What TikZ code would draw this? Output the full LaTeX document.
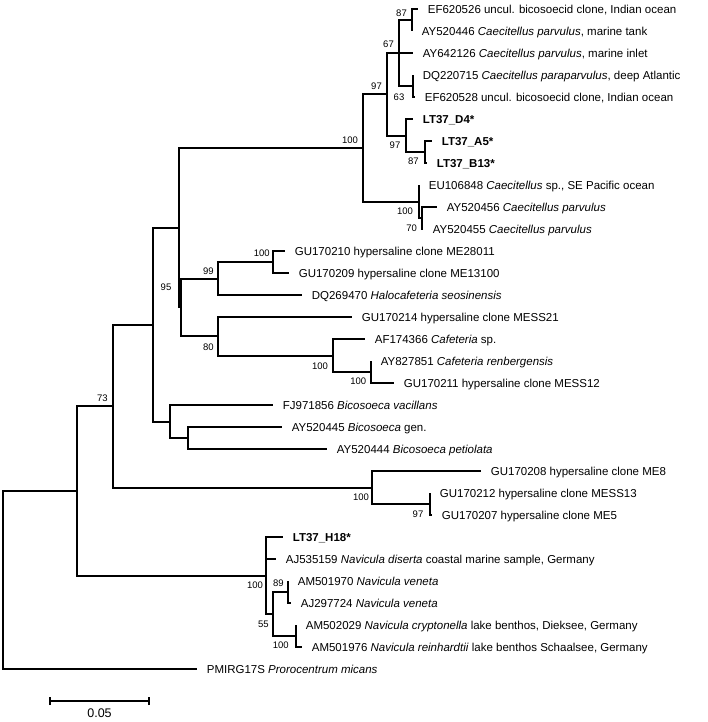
\documentclass[tikz,border=0pt]{standalone}
\usepackage{fontspec}
\setmainfont{Liberation Sans}
\newlength{\du}
\setlength{\du}{1pt}
\tikzset{
  tiplabel/.style={anchor=west, inner xsep=9\du, inner ysep=0pt, text height=8.2pt, text depth=0pt, font=\fontsize{11.5}{13}\selectfont},
  bootlabel/.style={inner sep=0pt, font=\fontsize{9.5}{11}\selectfont},
}
\begin{document}
\begin{tikzpicture}
\pgftransformxscale{1.000000}
\pgftransformyscale{-1.000000}
\useasboundingbox (0.000000\du,0.000000\du) rectangle (708.000000\du,722.000000\du);
\definecolor{dialinecolor}{rgb}{0.000000, 0.000000, 0.000000}
\pgfsetstrokecolor{dialinecolor}
\pgfsetlinewidth{1.700000\du}
\pgfsetdash{}{0pt}
\pgfsetmiterjoin
\pgfsetbuttcap
% inner nodes of the tree
\coordinate (root) at (3.000000\du,580.000000\du);
\coordinate (n76) at (77.000000\du,491.000000\du);
\coordinate (n73) at (113.000000\du,406.000000\du);
\coordinate (n152) at (153.000000\du,325.000000\du);
\coordinate (nX) at (179.000000\du,228.000000\du);
\coordinate (nY) at (181.000000\du,307.000000\du);
\coordinate (n100) at (363.000000\du,148.000000\du);
\coordinate (n97) at (387.000000\du,94.000000\du);
\coordinate (n67) at (399.000000\du,53.000000\du);
\coordinate (n87) at (412.000000\du,20.000000\du);
\coordinate (n63) at (413.000000\du,86.000000\du);
\coordinate (n97b) at (406.000000\du,136.000000\du);
\coordinate (n87b) at (425.000000\du,152.000000\du);
\coordinate (nA) at (419.000000\du,202.000000\du);
\coordinate (n70) at (422.000000\du,218.000000\du);
\coordinate (n99) at (218.000000\du,279.000000\du);
\coordinate (n100b) at (273.000000\du,262.000000\du);
\coordinate (n80) at (218.000000\du,336.000000\du);
\coordinate (n100c) at (333.000000\du,356.000000\du);
\coordinate (n100d) at (371.000000\du,372.000000\du);
\coordinate (nBic) at (170.000000\du,422.000000\du);
\coordinate (nB) at (188.000000\du,438.000000\du);
\coordinate (n100e) at (372.000000\du,488.000000\du);
\coordinate (n97c) at (430.000000\du,504.000000\du);
\coordinate (n100f) at (266.000000\du,576.000000\du);
\coordinate (n55) at (273.000000\du,614.000000\du);
\coordinate (n89) at (288.000000\du,592.000000\du);
\coordinate (n100g) at (296.000000\du,636.000000\du);
% setfont left to latex
\node[tiplabel] (tEF620526) at (418.000000\du,9.000000\du){EF620526 uncul. bicosoecid clone, Indian ocean};
\node[tiplabel] (tAY520446) at (412.000000\du,31.000000\du){AY520446 \textit{Caecitellus parvulus}, marine tank};
\node[tiplabel] (tAY642126) at (413.000000\du,53.000000\du){AY642126 \textit{Caecitellus parvulus}, marine inlet};
\node[tiplabel] (tDQ220715) at (413.000000\du,75.000000\du){DQ220715 \textit{Caecitellus paraparvulus}, deep Atlantic};
\node[tiplabel] (tEF620528) at (415.000000\du,97.000000\du){EF620528 uncul. bicosoecid clone, Indian ocean};
\node[tiplabel] (tLT37D4) at (413.000000\du,119.000000\du){\textbf{LT37\_D4*}};
\node[tiplabel] (tLT37A5) at (432.000000\du,141.000000\du){\textbf{LT37\_A5*}};
\node[tiplabel] (tLT37B13) at (427.000000\du,163.000000\du){\textbf{LT37\_B13*}};
\node[tiplabel] (tEU106848) at (419.000000\du,185.000000\du){EU106848 \textit{Caecitellus} sp., SE Pacific ocean};
\node[tiplabel] (tAY520456) at (437.000000\du,207.000000\du){AY520456 \textit{Caecitellus parvulus}};
\node[tiplabel] (tAY520455) at (423.000000\du,229.000000\du){AY520455 \textit{Caecitellus parvulus}};
\node[tiplabel] (tGU170210) at (285.000000\du,251.000000\du){GU170210 hypersaline clone ME28011};
\node[tiplabel] (tGU170209) at (289.000000\du,273.000000\du){GU170209 hypersaline clone ME13100};
\node[tiplabel] (tDQ269470) at (302.000000\du,295.000000\du){DQ269470 \textit{Halocafeteria seosinensis}};
\node[tiplabel] (tGU170214) at (352.000000\du,317.000000\du){GU170214 hypersaline clone MESS21};
\node[tiplabel] (tAF174366) at (365.000000\du,339.000000\du){AF174366 \textit{Cafeteria} sp.};
\node[tiplabel] (tAY827851) at (371.000000\du,361.000000\du){AY827851 \textit{Cafeteria renbergensis}};
\node[tiplabel] (tGU170211) at (394.000000\du,383.000000\du){GU170211 hypersaline clone MESS12};
\node[tiplabel] (tFJ971856) at (273.000000\du,405.000000\du){FJ971856 \textit{Bicosoeca vacillans}};
\node[tiplabel] (tAY520445) at (282.000000\du,427.000000\du){AY520445 \textit{Bicosoeca} gen.};
\node[tiplabel] (tAY520444) at (327.000000\du,449.000000\du){AY520444 \textit{Bicosoeca petiolata}};
\node[tiplabel] (tGU170208) at (481.000000\du,471.000000\du){GU170208 hypersaline clone ME8};
\node[tiplabel] (tGU170212) at (430.000000\du,493.000000\du){GU170212 hypersaline clone MESS13};
\node[tiplabel] (tGU170207) at (432.000000\du,515.000000\du){GU170207 hypersaline clone ME5};
\node[tiplabel] (tLT37H18) at (283.000000\du,537.000000\du){\textbf{LT37\_H18*}};
\node[tiplabel] (tAJ535159) at (276.000000\du,559.000000\du){AJ535159 \textit{Navicula diserta} coastal marine sample, Germany};
\node[tiplabel] (tAM501970) at (288.000000\du,581.000000\du){AM501970 \textit{Navicula veneta}};
\node[tiplabel] (tAJ297724) at (291.000000\du,603.000000\du){AJ297724 \textit{Navicula veneta}};
\node[tiplabel] (tAM502029) at (296.000000\du,625.000000\du){AM502029 \textit{Navicula cryptonella} lake benthos, Dieksee, Germany};
\node[tiplabel] (tAM501976) at (302.000000\du,647.000000\du){AM501976 \textit{Navicula reinhardtii} lake benthos Schaalsee, Germany};
\node[tiplabel] (tPMIRG17S) at (197.000000\du,669.000000\du){PMIRG17S \textit{Prorocentrum micans}};
% branches
\draw (root) |- (n76);
\draw (root) |- (tPMIRG17S.west);
\draw (n76) |- (n73);
\draw (n76) |- (n100f);
\draw (n73) |- (n152);
\draw (n73) |- (n100e);
\draw (n152) |- (nX);
\draw (n152) |- (nBic);
\draw (nX) |- (n100);
\draw (nX) |- (nY);
\draw (n100) |- (n97);
\draw (n100) |- (nA);
\draw (n97) |- (n67);
\draw (n97) |- (n97b);
\draw (n67) |- (n87);
\draw (n67) |- (tAY642126.west);
\draw (n67) |- (n63);
\draw (n87) |- (tEF620526.west);
\draw (n87) |- (tAY520446.west);
\draw (n63) |- (tDQ220715.west);
\draw (n63) |- (tEF620528.west);
\draw (n97b) |- (tLT37D4.west);
\draw (n97b) |- (n87b);
\draw (n87b) |- (tLT37A5.west);
\draw (n87b) |- (tLT37B13.west);
\draw (nA) |- (tEU106848.west);
\draw (nA) |- (n70);
\draw (n70) |- (tAY520456.west);
\draw (n70) |- (tAY520455.west);
\draw (nY) |- (n99);
\draw (nY) |- (n80);
\draw (n99) |- (n100b);
\draw (n99) |- (tDQ269470.west);
\draw (n100b) |- (tGU170210.west);
\draw (n100b) |- (tGU170209.west);
\draw (n80) |- (tGU170214.west);
\draw (n80) |- (n100c);
\draw (n100c) |- (tAF174366.west);
\draw (n100c) |- (n100d);
\draw (n100d) |- (tAY827851.west);
\draw (n100d) |- (tGU170211.west);
\draw (nBic) |- (tFJ971856.west);
\draw (nBic) |- (nB);
\draw (nB) |- (tAY520445.west);
\draw (nB) |- (tAY520444.west);
\draw (n100e) |- (tGU170208.west);
\draw (n100e) |- (n97c);
\draw (n97c) |- (tGU170212.west);
\draw (n97c) |- (tGU170207.west);
\draw (n100f) |- (tLT37H18.west);
\draw (n100f) |- (tAJ535159.west);
\draw (n100f) |- (n55);
\draw (n55) |- (n89);
\draw (n55) |- (n100g);
\draw (n89) |- (tAM501970.west);
\draw (n89) |- (tAJ297724.west);
\draw (n100g) |- (tAM502029.west);
\draw (n100g) |- (tAM501976.west);
% bootstrap values
\node[bootlabel] (b87a) at (401.500000\du,13.000000\du){87};
\node[bootlabel] (b67) at (388.500000\du,44.000000\du){67};
\node[bootlabel] (b63) at (399.000000\du,97.000000\du){63};
\node[bootlabel] (b97a) at (376.500000\du,86.500000\du){97};
\node[bootlabel] (b97b) at (395.000000\du,145.000000\du){97};
\node[bootlabel] (b87b) at (413.300000\du,161.700000\du){87};
\node[bootlabel] (b100a) at (350.000000\du,140.000000\du){100};
\node[bootlabel] (b100b) at (405.000000\du,211.000000\du){100};
\node[bootlabel] (b70) at (411.700000\du,228.300000\du){70};
\node[bootlabel] (b100c) at (261.700000\du,253.300000\du){100};
\node[bootlabel] (b99) at (208.300000\du,271.000000\du){99};
\node[bootlabel] (b95) at (166.000000\du,287.000000\du){95};
\node[bootlabel] (b80) at (208.300000\du,347.300000\du){80};
\node[bootlabel] (b100d) at (320.000000\du,366.000000\du){100};
\node[bootlabel] (b100e) at (358.300000\du,381.700000\du){100};
\node[bootlabel] (b73) at (102.300000\du,398.300000\du){73};
\node[bootlabel] (b100f) at (361.000000\du,497.000000\du){100};
\node[bootlabel] (b97c) at (418.000000\du,514.000000\du){97};
\node[bootlabel] (b100g) at (255.000000\du,585.700000\du){100};
\node[bootlabel] (b89) at (278.300000\du,583.300000\du){89};
\node[bootlabel] (b55) at (263.300000\du,624.000000\du){55};
\node[bootlabel] (b100h) at (280.700000\du,645.000000\du){100};
% scale bar
\coordinate (sbL) at (50.000000\du,701.000000\du);
\coordinate (sbR) at (149.000000\du,701.000000\du);
\draw (sbL) -- (sbR);
\draw ([yshift=4\du]sbL) -- ([yshift=-4\du]sbL);
\draw ([yshift=4\du]sbR) -- ([yshift=-4\du]sbR);
\node[inner sep=0pt, font=\fontsize{12.5}{14}\selectfont] (sblabel) at (99.500000\du,713.000000\du){0.05};
\end{tikzpicture}
\end{document}
